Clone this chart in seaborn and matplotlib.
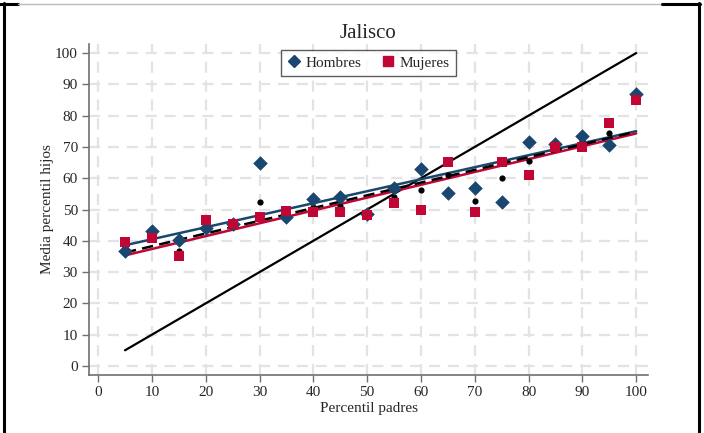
import numpy as np
import pandas as pd
import matplotlib
matplotlib.use("Agg")
import matplotlib.pyplot as plt
from matplotlib.lines import Line2D
import seaborn as sns

# Percentile of the parents (x) and mean percentile of the children (y)
percentil_padres = [5, 10, 15, 20, 25, 30, 35, 40, 45, 50,
                    55, 60, 65, 70, 75, 80, 85, 90, 95, 100]
hombres = [36.7, 43.1, 40.3, 44.1, 45.5, 64.9, 47.6, 53.4, 54.0, 48.6,
           56.9, 62.9, 55.3, 56.9, 52.4, 71.6, 70.9, 73.5, 70.6, 86.9]
mujeres = [39.6, 40.9, 35.1, 46.6, 45.4, 47.6, 49.5, 49.2, 49.2, 48.2,
           52.1, 49.8, 65.2, 49.2, 65.2, 61.0, 70.0, 70.0, 77.6, 85.0]
total = [38.1, 42.0, 36.7, 45.4, 45.5, 52.4, 48.5, 50.8, 51.1, 48.4,
         54.0, 56.2, 61.0, 52.7, 60.1, 65.5, 70.4, 71.9, 74.4, 86.0]

ticks = list(range(0, 101, 10))

NAVY = "#1a476f"
RED = "#c10534"

df = pd.DataFrame({"x": percentil_padres, "hombres": hombres,
                   "mujeres": mujeres, "total": total})

sns.set_theme(style="white")
plt.rcParams["font.family"] = ["Liberation Serif", "DejaVu Serif"]

fig = plt.figure(figsize=(7.04, 4.33), dpi=100)
ax = fig.add_axes([89 / 704, 58 / 433, 559 / 704, 331 / 433])

# dashed background grid
for t in ticks:
    ax.axvline(t, color="#e3e3e3", lw=1.6, ls=(0, (5, 3.5)), zorder=0)
    ax.axhline(t, color="#e3e3e3", lw=1.6, ls=(0, (5, 3.5)), zorder=0)

# 45-degree reference line
sns.lineplot(x=df["x"], y=df["x"], ax=ax, color="black", lw=1.6, zorder=2)

# linear fits
sns.regplot(data=df, x="x", y="hombres", ax=ax, scatter=False, ci=None,
            truncate=True, line_kws=dict(color=NAVY, lw=1.8, zorder=3))
sns.regplot(data=df, x="x", y="mujeres", ax=ax, scatter=False, ci=None,
            truncate=True, line_kws=dict(color=RED, lw=1.8, zorder=3))
sns.regplot(data=df, x="x", y="total", ax=ax, scatter=False, ci=None,
            truncate=True, line_kws=dict(color="black", lw=1.8,
                                         ls=(0, (4.5, 2.5)), zorder=4))

# observed means
sns.scatterplot(data=df, x="x", y="total", ax=ax, color="black", s=20,
                marker="o", linewidth=0, zorder=5)
sns.scatterplot(data=df, x="x", y="hombres", ax=ax, color=NAVY, s=55,
                marker="D", linewidth=0, zorder=6)
sns.scatterplot(data=df, x="x", y="mujeres", ax=ax, color=RED, s=48,
                marker="s", linewidth=0, zorder=7)

ax.set_xlim(-1.7, 102.2)
ax.set_ylim(-2.9, 102.9)
ax.set_xticks(ticks)
ax.set_yticks(ticks)
ax.tick_params(axis="both", which="major", direction="out", length=5,
               width=1, color="#707070", labelsize=11, pad=3,
               bottom=True, left=True)
for side in ("top", "right"):
    ax.spines[side].set_visible(False)
for side in ("left", "bottom"):
    ax.spines[side].set_color("#707070")
    ax.spines[side].set_linewidth(1.2)

ax.set_xlabel("Percentil padres", fontsize=11, labelpad=2)
ax.set_ylabel("Media percentil hijos", fontsize=11, labelpad=1)
ax.set_title("Jalisco", fontsize=15, pad=4)

handles = [
    Line2D([], [], marker="D", color=NAVY, ls="none", markersize=6.5),
    Line2D([], [], marker="s", color=RED, ls="none", markersize=6.5),
]
leg = ax.legend(handles, ["Hombres", "Mujeres"], loc="upper center",
                bbox_to_anchor=(0.5, 0.982), borderaxespad=0, ncol=2,
                fontsize=11, frameon=True, fancybox=False,
                handletextpad=0.3, columnspacing=1.3, handlelength=0.9,
                borderpad=0.4)
leg.get_frame().set_edgecolor("#333333")
leg.get_frame().set_linewidth(1.0)

# outer frame
def fline(xs, ys, color="black", lw=2.2):
    fig.add_artist(Line2D([x / 704 for x in xs], [1 - y / 433 for y in ys],
                          color=color, lw=lw, transform=fig.transFigure))

fline([4, 4], [3, 433])
fline([0, 18], [3.5, 3.5])
fline([18, 662], [3.5, 3.5], color="#bbbbbb", lw=1.0)
fline([662, 700], [3.5, 3.5])
fline([699, 699], [3, 433])

fig.savefig("out.png", dpi=100)
